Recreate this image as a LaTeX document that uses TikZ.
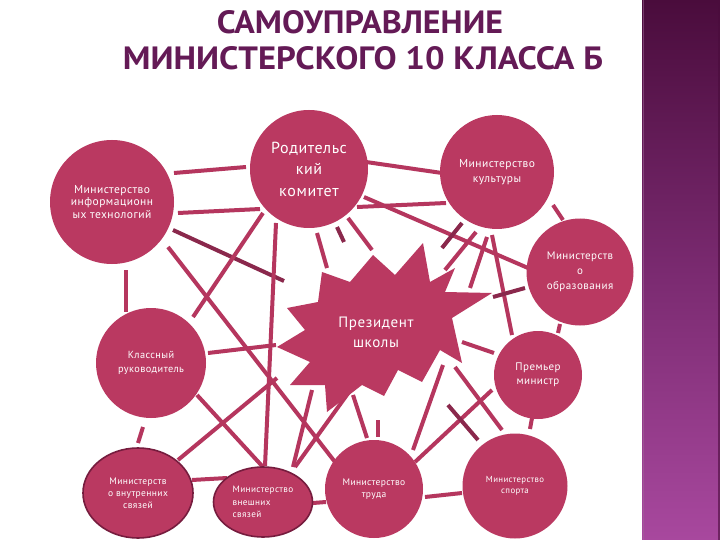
\documentclass[tikz,border=0pt]{standalone}
\usepackage{fontspec}
\setmainfont{PT Sans}
\newfontfamily\titlefont{PT Sans Bold}
\newfontfamily\lbl[LetterSpace=4]{PT Sans}
\usetikzlibrary{shapes.geometric}
\definecolor{rose}{RGB}{186,57,97}
\definecolor{roseline}{RGB}{181,54,94}
\definecolor{darkrose}{RGB}{138,40,76}
\definecolor{rim}{RGB}{118,28,62}
\definecolor{titlec}{RGB}{100,26,86}
\definecolor{bartop}{RGB}{74,12,60}
\definecolor{barmid}{RGB}{122,42,112}
\definecolor{barbot}{RGB}{168,72,158}
\tikzset{
  circ/.style={circle, fill=rose, inner sep=0pt, text=white, align=center, font=\lbl},
  ell/.style={ellipse, fill=rose, draw=rim, line width=1.6pt, inner sep=0pt, text=white, align=center, font=\lbl},
  seg/.style={draw=roseline, line width=4pt},
  dseg/.style={draw=darkrose, line width=4pt},
  lab/.style={text=white, align=center, inner sep=0pt},
  ttl/.style={inner sep=0pt, anchor=base, text=titlec}
}
\begin{document}
\begin{tikzpicture}[x=1pt,y=-1pt]
\useasboundingbox (0,0) rectangle (720,540);
\fill[white] (0,0) rectangle (720,540);
% right bar
\shade[top color=bartop, bottom color=barbot, middle color=barmid] (642,0) rectangle (720,540);
\draw[barmid!70!white, line width=0.8pt, opacity=0.5] (643,0) -- (643,540);
\draw[bartop, line width=2pt, opacity=0.6] (719,0) -- (719,540);
% title
\node[ttl] (t1) at (360,34) {\resizebox{286pt}{23pt}{\titlefont САМОУПРАВЛЕНИЕ}};
\node[ttl] (t2) at (363,70) {\resizebox{480pt}{23pt}{\titlefont МИНИСТЕРСКОГО 10 КЛАССА Б}};
% connector fragments
\path[seg] (174,173) -- (246,167);
\path[seg] (178,213) -- (260,209);
\path[dseg] (173,230) -- (284,281);
\path[seg] (168,247) -- (335,462);
\path[seg] (126,270) -- (126,312);
\path[seg] (263,213) -- (193,317);
\path[seg] (276,223) -- (265,466);
\path[seg] (317,233) -- (327,268);
\path[dseg] (337,227) -- (344,242);
\path[seg] (348,218) -- (372,250);
\path[seg] (366,162) -- (442,173);
\path[seg] (357,207) -- (446,203);
\path[seg] (364,197) -- (528,268);
\path[dseg] (462,223) -- (442,248);
\path[seg] (476,232) -- (445,270);
\path[seg] (487,237) -- (470,288);
\path[seg] (492,235) -- (512,335);
\path[seg] (553,205) -- (563,220);
\path[dseg] (493,297) -- (525,288);
\path[seg] (208,353) -- (276,345);
\path[seg] (197,395) -- (263,467);
\path[seg] (143,427) -- (138,443);
\path[seg] (178,460) -- (277,378);
\path[seg] (192,480) -- (227,478);
\path[seg] (293,467) -- (312,390);
\path[seg] (295,467) -- (349,392);
\path[seg] (313,503) -- (326,502);
\path[seg] (353,395) -- (367,438);
\path[seg] (378,420) -- (378,437);
\path[seg] (413,450) -- (443,365);
\path[seg] (415,462) -- (492,390);
\path[dseg] (448,405) -- (478,440);
\path[seg] (455,367) -- (502,430);
\path[seg] (462,342) -- (494,353);
\path[seg] (532,418) -- (530,429);
\path[seg] (560,324) -- (558,333);
\path[seg] (425,497) -- (462,493);
% star
\fill[rose] (423,243) -- (430,282) -- (455,268) -- (445,292) -- (492,293) -- (452,318)
  -- (462,363) -- (440,350) -- (422,382) -- (398,370) -- (384,396) -- (362,385)
  -- (327,412) -- (325,385) -- (290,385) -- (310,362) -- (277,347) -- (305,330)
  -- (287,308) -- (318,302) -- (322,272) -- (350,282) -- (373,255) -- (395,275) -- cycle;
\node[lab, font=\lbl\fontsize{15}{20}\selectfont] (pres) at (376,332) {Президент\\школы};
% nodes
\node[circ, minimum size=124pt, font=\lbl\fontsize{11.5}{12.5}\selectfont] (info) at (112,202) {Министерство\\информационн\\ых технологий};
\node[circ, minimum size=118pt, font=\lbl\fontsize{16}{21.5}\selectfont] (parent) at (309,169) {Родительс\\кий\\комитет};
\node[circ, minimum size=114pt, font=\lbl\fontsize{11.5}{15}\selectfont] (cult) at (497,172) {Министерство\\культуры};
\node[circ, minimum size=107pt, font=\lbl\fontsize{11}{15}\selectfont] (edu) at (580,272) {Министерств\\о\\образования};
\node[circ, minimum size=110pt, font=\lbl\fontsize{10.3}{13.5}\selectfont] (cls) at (151,363) {Классный\\руководитель};
\node[circ, minimum size=88pt, font=\lbl\fontsize{11}{14}\selectfont] (prem) at (538,375) {Премьер\\министр};
\node[ell, minimum width=110pt, minimum height=90pt, font=\lbl\fontsize{9.5}{12}\selectfont] (intr) at (138,493) {Министерств\\о внутренних\\связей};
\node[ell, minimum width=99pt, minimum height=70pt, align=left, font=\lbl\fontsize{9.2}{12.5}\selectfont] (ext) at (263,502) {Министерство\\внешних\\связей};
\node[circ, minimum size=98pt, font=\lbl\fontsize{9.5}{12}\selectfont] (lab) at (374,489) {Министерство\\труда};
\node[circ, minimum size=105pt, font=\lbl\fontsize{8.8}{11.5}\selectfont] (sport) at (515,486) {Министерство\\спорта};
\end{tikzpicture}
\end{document}
